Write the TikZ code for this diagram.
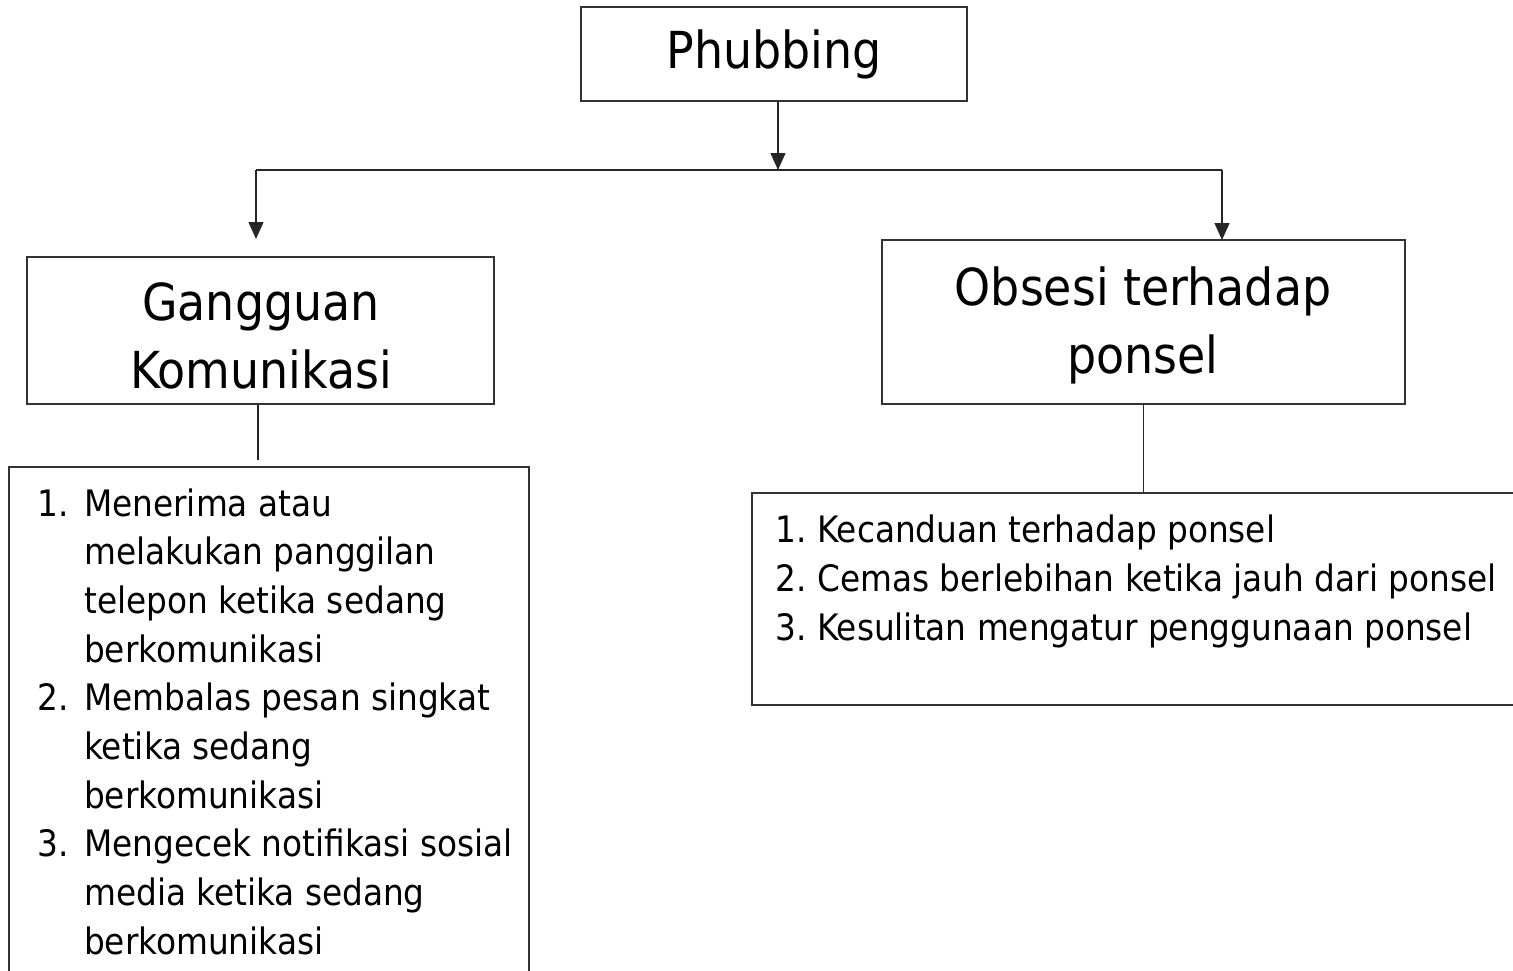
\documentclass[tikz,border=0pt]{standalone}
\usepackage{fontspec}
\setmainfont{DejaVu Sans Condensed}
\usetikzlibrary{arrows.meta}
\begin{document}
\begin{tikzpicture}[x=1pt,y=-1pt,
  box/.style={draw=black!80,line width=1.3pt,inner sep=0pt},
  head/.style={font=\fontsize{51}{68}\selectfont,inner sep=0pt,anchor=base},
  li/.style={font=\fontsize{36.4}{48.7}\selectfont,inner sep=0pt,anchor=base west},
  conn/.style={draw=black!85,line width=1.3pt},
  arr/.style={conn,-{Triangle[width=15pt,length=17pt]}}]
\useasboundingbox (0,0) rectangle (1513,970);
% boxes
\node[box,minimum width=386pt,minimum height=94pt] (ph) at (774,54)
  {\fontsize{51}{60}\selectfont Phubbing};
\node[box,minimum width=467pt,minimum height=147pt] (gk) at (260.5,330.5) {};
\node[box,minimum width=523pt,minimum height=164pt] (ob) at (1143.5,322) {};
\node[box,minimum width=520pt,minimum height=533pt] (ll) at (269,733.5) {};
\node[box,minimum width=778pt,minimum height=212pt] (rl) at (1141,599) {};
% heading texts
\node[head] (gk1) at (261,320) {Gangguan};
\node[head] (gk2) at (261,388) {Komunikasi};
\node[head] (ob1) at (1143,305) {Obsesi terhadap};
\node[head] (ob2) at (1143,373) {ponsel};
% connectors
\coordinate (j) at (778,170);
\coordinate (cL) at (256,170);
\coordinate (cR) at (1222,170);
\coordinate (tL) at (256,239);
\coordinate (tR) at (1222,240);
\coordinate (eL) at (258,460);
\draw[arr] (ph.south -| j) -- (j);
\draw[conn] (cL) -- (cR);
\draw[arr] (cL) -- (tL);
\draw[arr] (cR) -- (tR);
\draw[conn] (gk.south -| eL) -- (eL);
\draw[conn] (ob.south) -- (ob.south |- rl.north);
% left list
\node[li] (n1) at (37,516) {1.};
\node[li] (a1) at (84,516) {Menerima atau};
\node[li] (a2) at (84,564.7) {melakukan panggilan};
\node[li] (a3) at (84,613.4) {telepon ketika sedang};
\node[li] (a4) at (84,662.1) {berkomunikasi};
\node[li] (n2) at (37,710.8) {2.};
\node[li] (b1) at (84,710.8) {Membalas pesan singkat};
\node[li] (b2) at (84,759.5) {ketika sedang};
\node[li] (b3) at (84,808.2) {berkomunikasi};
\node[li] (n3) at (37,856.9) {3.};
\node[li] (c1) at (84,856.9) {Mengecek notifikasi sosial};
\node[li] (c2) at (84,905.6) {media ketika sedang};
\node[li] (c3) at (84,954.3) {berkomunikasi};
% right list
\node[li] (m1) at (775,542) {1.};
\node[li] (d1) at (817,542) {Kecanduan terhadap ponsel};
\node[li] (m2) at (775,591) {2.};
\node[li] (d2) at (817,591) {Cemas berlebihan ketika jauh dari ponsel};
\node[li] (m3) at (775,640) {3.};
\node[li] (d3) at (817,640) {Kesulitan mengatur penggunaan ponsel};
\end{tikzpicture}
\end{document}
